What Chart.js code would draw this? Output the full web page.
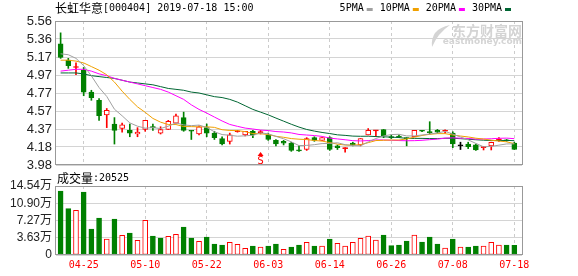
<!DOCTYPE html>
<html>
<head>
<meta charset="utf-8">
<script src="https://cdn.jsdelivr.net/npm/chart.js@4.4.1/dist/chart.umd.min.js"></script>
<style>
html, body { margin: 0; padding: 0; background: #fff; }
#wrap { position: relative; width: 578px; height: 276px; overflow: hidden; }
#price { position: absolute; left: 0; top: 0; }
#volume { position: absolute; left: 0; top: 166px; }
</style>
</head>
<body>
<div id="wrap">
  <canvas id="price" width="578" height="178"></canvas>
  <canvas id="volume" width="578" height="110"></canvas>
</div>
<script>
// trading days 2019-04-22 .. 2019-07-18
const dates = ['04-22','04-23','04-24','04-25','04-26','04-29','04-30','05-06','05-07','05-08',
  '05-09','05-10','05-13','05-14','05-15','05-16','05-17','05-20','05-21','05-22',
  '05-23','05-24','05-27','05-28','05-29','05-30','05-31','06-03','06-04','06-05',
  '06-06','06-10','06-11','06-12','06-13','06-14','06-17','06-18','06-19','06-20',
  '06-21','06-24','06-25','06-26','06-27','06-28','07-01','07-02','07-03','07-04',
  '07-05','07-08','07-09','07-10','07-11','07-12','07-15','07-16','07-17','07-18'];

const opens = [5.31,5.13,5.05,5.02,4.78,4.69,4.53,4.43,4.38,4.36,
  4.32,4.37,4.40,4.33,4.37,4.44,4.50,4.36,4.32,4.39,
  4.33,4.27,4.24,4.345,4.31,4.35,4.335,4.31,4.25,4.24,
  4.22,4.14,4.15,4.28,4.25,4.28,4.19,4.16,4.22,4.20,
  4.31,4.355,4.37,4.285,4.29,4.275,4.29,4.355,4.34,4.36,
  4.35,4.33,4.19,4.21,4.20,4.17,4.19,4.255,4.25,4.22];
const highs = [5.43,5.15,5.10,5.05,4.80,4.71,4.60,4.50,4.44,4.43,
  4.39,4.47,4.43,4.40,4.47,4.54,4.56,4.36,4.41,4.43,
  4.35,4.29,4.33,4.36,4.35,4.36,4.36,4.33,4.26,4.25,
  4.23,4.19,4.28,4.29,4.28,4.29,4.20,4.17,4.23,4.27,
  4.38,4.36,4.37,4.31,4.31,4.28,4.36,4.36,4.455,4.37,
  4.365,4.345,4.23,4.23,4.21,4.18,4.23,4.28,4.26,4.23];
const lows = [5.15,5.04,4.97,4.74,4.69,4.47,4.39,4.21,4.34,4.29,
  4.29,4.35,4.36,4.32,4.37,4.44,4.35,4.26,4.31,4.29,
  4.26,4.20,4.21,4.34,4.30,4.28,4.32,4.25,4.19,4.20,
  4.13,4.13,4.14,4.24,4.25,4.14,4.15,4.12,4.19,4.19,
  4.31,4.29,4.28,4.27,4.28,4.19,4.29,4.345,4.32,4.33,
  4.33,4.17,4.15,4.16,4.14,4.145,4.145,4.24,4.24,4.15];
const closes = [5.16,5.07,5.06,4.78,4.72,4.52,4.58,4.36,4.42,4.33,
  4.34,4.47,4.39,4.37,4.46,4.52,4.36,4.35,4.40,4.33,
  4.28,4.21,4.31,4.35,4.35,4.31,4.34,4.26,4.21,4.22,
  4.14,4.135,4.27,4.25,4.28,4.15,4.17,4.165,4.20,4.27,
  4.36,4.36,4.30,4.28,4.285,4.27,4.36,4.35,4.335,4.34,
  4.36,4.21,4.19,4.18,4.145,4.175,4.23,4.26,4.245,4.15];

const ma5 = [5.20,5.19,5.15,5.07,4.958,4.830,4.732,4.592,4.520,4.442,
  4.406,4.384,4.390,4.380,4.406,4.442,4.420,4.412,4.418,4.392,
  4.344,4.314,4.306,4.296,4.300,4.306,4.332,4.322,4.294,4.268,
  4.234,4.193,4.195,4.203,4.215,4.217,4.224,4.203,4.193,4.191,
  4.233,4.271,4.298,4.314,4.317,4.299,4.299,4.309,4.320,4.331,
  4.349,4.319,4.287,4.256,4.217,4.180,4.184,4.198,4.211,4.212];
const ma10 = [5.13,5.13,5.12,5.10,5.06,5.02,4.97,4.89,4.79,4.700,
  4.618,4.558,4.491,4.450,4.424,4.424,4.402,4.401,4.399,4.399,
  4.393,4.367,4.359,4.357,4.346,4.325,4.323,4.314,4.295,4.284,
  4.270,4.263,4.259,4.249,4.242,4.226,4.209,4.199,4.198,4.203,
  4.225,4.248,4.251,4.254,4.254,4.266,4.285,4.304,4.317,4.324,
  4.324,4.309,4.298,4.288,4.274,4.265,4.252,4.243,4.234,4.215];
const ma20 = [5.01,5.02,5.03,5.03,5.01,4.98,4.96,4.93,4.91,4.89,
  4.87,4.85,4.83,4.81,4.78,4.74,4.70,4.64,4.59,4.550,
  4.506,4.463,4.425,4.404,4.385,4.375,4.363,4.358,4.347,4.342,
  4.332,4.315,4.309,4.303,4.294,4.275,4.266,4.257,4.247,4.244,
  4.248,4.255,4.255,4.251,4.248,4.246,4.247,4.251,4.258,4.264,
  4.275,4.278,4.274,4.271,4.264,4.265,4.268,4.273,4.275,4.269];
const ma30 = [4.99,4.99,4.99,4.98,4.96,4.95,4.94,4.93,4.91,4.89,
  4.88,4.87,4.86,4.84,4.82,4.81,4.80,4.78,4.77,4.75,
  4.73,4.72,4.70,4.67,4.63,4.59,4.56,4.53,4.495,4.461,
  4.427,4.396,4.370,4.352,4.337,4.325,4.311,4.305,4.297,4.295,
  4.296,4.292,4.289,4.286,4.281,4.272,4.272,4.272,4.270,4.270,
  4.273,4.273,4.269,4.263,4.257,4.252,4.248,4.248,4.250,4.247];

// volume in 万 (10k), colour as shown: R = up, G = down
const volumes = [13.48,9.76,9.41,13.27,5.48,7.79,3.37,7.58,4.14,4.63,
  3.09,7.30,4.00,3.58,3.93,4.35,5.90,3.58,2.88,3.79,
  2.32,2.11,2.67,2.25,1.40,1.90,1.69,1.90,2.32,1.19,
  1.69,2.11,2.67,1.90,1.90,3.37,2.46,1.90,2.67,3.51,
  4.00,3.16,4.21,1.97,2.11,2.95,4.21,2.74,3.79,2.32,
  1.47,3.37,1.69,1.69,1.90,1.90,2.67,2.11,2.11,2.05];
const volDirs = ['G','G','R','G','G','G','R','G','R','G',
  'R','R','G','G','R','R','G','G','R','G',
  'G','G','R','R','R','G','R','G','G','R',
  'G','G','R','G','R','G','R','R','R','R',
  'R','R','G','G','G','G','R','G','G','G',
  'R','G','R','G','G','R','R','R','G','G'];

const dateTicks = ['04-25','05-10','05-22','06-03','06-14','06-26','07-08','07-18'];
const priceTicks = ['3.98','4.18','4.37','4.57','4.77','4.97','5.17','5.36','5.56'];
const volumeTicks = ['0','3.63万','7.27万','10.90万','14.54万'];
const priceMin = 3.98, priceMax = 5.56;
const volMax = 14.54;
const lastVolume = '20525';
const sellDate = '05-31';

const RED = '#ff0000', GREEN = '#008000';
const maList = [
  { label: '5PMA', data: ma5, color: '#a0a0a0' },
  { label: '10PMA', data: ma10, color: '#f0a000' },
  { label: '20PMA', data: ma20, color: '#ff00ff' },
  { label: '30PMA', data: ma30, color: '#006633' }
];

const tickIdx = dateTicks.map(d => dates.indexOf(d));
const evenTicks = (min, max, n) => Array.from({ length: n }, (_, k) => ({ value: min + (max - min) * k / (n - 1) }));

const candleColor = dates.map((d, i) => closes[i] > opens[i] ? RED : (closes[i] < opens[i] ? GREEN : '#000'));
const bodyFill = dates.map((d, i) => (closes[i] - opens[i] > 0.015) ? '#fff' : candleColor[i]);

const CN = '"Noto Sans CJK SC"';
const MONO = '"DejaVu Sans Mono"';

const frame = {
  id: 'frame',
  afterDraw(chart) {
    const a = chart.chartArea, ctx = chart.ctx;
    ctx.save();
    ctx.strokeStyle = '#999';
    ctx.lineWidth = 1;
    ctx.strokeRect(a.left - 0.5, a.top + 0.5, a.right - a.left + 1, a.bottom - a.top - 1);
    ctx.restore();
  }
};

const xScale = (showLabels) => ({
  type: 'linear',
  min: -0.6,
  max: 60,
  offset: false,
  afterBuildTicks: s => { s.ticks = tickIdx.map(v => ({ value: v })); },
  afterFit: s => { s.height = showLabels ? 21 : 0; },
  grid: { color: '#cccccc', drawTicks: false, offset: false },
  border: { display: false, dash: [3, 3] },
  ticks: {
    display: showLabels,
    autoSkip: false,
    maxRotation: 0,
    padding: 4,
    color: RED,
    font: { family: MONO, size: 10 },
    callback: v => dates[v]
  }
});

const priceHeader = {
  id: 'priceHeader',
  beforeDatasetsDraw(chart) {
    const a = chart.chartArea, ctx = chart.ctx;
    ctx.save();
    ctx.fillStyle = '#d4d4d4';
    ctx.textAlign = 'right';
    ctx.textBaseline = 'middle';
    ctx.font = 'bold 14px ' + CN;
    ctx.fillText('东方财富网', a.right, a.top + 10);
    ctx.font = 'bold 9px "DejaVu Sans"';
    ctx.fillText('eastmoney.com', a.right, a.top + 21);
    // leaf-like logo mark
    const lx = a.right - 82, ly = a.top + 14;
    ctx.beginPath();
    ctx.moveTo(lx - 8, ly + 12);
    ctx.quadraticCurveTo(lx - 10, ly - 6, lx + 10, ly - 10);
    ctx.quadraticCurveTo(lx - 2, ly - 2, lx - 8, ly + 12);
    ctx.fill();
    ctx.restore();
  },
  afterDraw(chart) {
    const ctx = chart.ctx, a = chart.chartArea;
    ctx.save();
    ctx.textBaseline = 'middle';
    ctx.fillStyle = '#000';
    ctx.font = '12px ' + CN;
    ctx.fillText('长虹华意', 55, 8);
    let x = 55 + ctx.measureText('长虹华意').width;
    ctx.font = '10px ' + MONO;
    ctx.fillText('[000404] 2019-07-18 15:00', x, 8);

    // legend: text then colour box, right aligned
    let right = 511;
    for (let k = maList.length - 1; k >= 0; k--) {
      const m = maList[k];
      ctx.fillStyle = m.color;
      ctx.fillRect(right - 6, 8, 6, 3);
      const w = ctx.measureText(m.label).width;
      ctx.fillStyle = '#000';
      ctx.fillText(m.label, right - 9 - w, 8);
      right = right - 9 - w - 7;
    }

    // sell marker
    const sx = chart.scales.x.getPixelForValue(dates.indexOf(sellDate));
    ctx.fillStyle = RED;
    ctx.beginPath();
    ctx.moveTo(sx, a.bottom - 13);
    ctx.lineTo(sx - 3, a.bottom - 9);
    ctx.lineTo(sx + 3, a.bottom - 9);
    ctx.closePath();
    ctx.fill();
    ctx.font = '11px ' + MONO;
    ctx.textAlign = 'center';
    ctx.fillText('S', sx, a.bottom - 4);
    ctx.restore();
  }
};

new Chart(document.getElementById('price'), {
  type: 'bar',
  data: {
    datasets: [
      ...maList.map(m => ({
        type: 'line',
        label: m.label,
        data: m.data.map((v, i) => ({ x: i, y: v })),
        borderColor: m.color,
        borderWidth: 1,
        pointRadius: 0,
        tension: 0,
        order: 0
      })),
      {
        label: 'body',
        data: dates.map((d, i) => ({ x: i, y: [opens[i], closes[i]] })),
        backgroundColor: bodyFill,
        borderColor: candleColor,
        borderWidth: 1,
        borderSkipped: false,
        barThickness: 5,
        minBarLength: 1,
        grouped: false,
        order: 1
      },
      {
        label: 'wick',
        data: dates.map((d, i) => ({ x: i, y: [lows[i], highs[i]] })),
        backgroundColor: candleColor,
        borderWidth: 0,
        barThickness: 1,
        grouped: false,
        order: 2
      }
    ]
  },
  options: {
    responsive: false,
    animation: false,
    layout: { padding: { top: 21, right: 56, bottom: 13, left: 0 } },
    plugins: { legend: { display: false }, tooltip: { enabled: false } },
    scales: {
      x: xScale(false),
      y: {
        min: priceMin,
        max: priceMax,
        afterBuildTicks: s => { s.ticks = evenTicks(priceMin, priceMax, priceTicks.length); },
        afterFit: s => { s.width = 56; },
        grid: { color: '#d4d4d4', drawTicks: false },
        border: { display: false },
        ticks: {
          autoSkip: false,
          padding: 4,
          color: '#222',
          font: { family: '"Liberation Sans"', size: 13 },
          callback: (v, k) => priceTicks[k]
        }
      }
    }
  },
  plugins: [frame, priceHeader]
});

const volHeader = {
  id: 'volHeader',
  afterDraw(chart) {
    const ctx = chart.ctx;
    ctx.save();
    ctx.textBaseline = 'middle';
    ctx.fillStyle = '#000';
    ctx.font = '12px ' + CN;
    ctx.fillText('成交量', 57, 12);
    const x = 57 + ctx.measureText('成交量').width;
    ctx.font = '10px ' + MONO;
    ctx.fillText(':' + lastVolume, x, 12);
    ctx.restore();
  }
};

new Chart(document.getElementById('volume'), {
  type: 'bar',
  data: {
    datasets: [{
      label: '成交量',
      data: volumes.map((v, i) => ({ x: i, y: v })),
      backgroundColor: volDirs.map(c => c === 'R' ? '#fff' : GREEN),
      borderColor: volDirs.map(c => c === 'R' ? RED : GREEN),
      borderWidth: 1,
      borderSkipped: false,
      barThickness: 5,
      grouped: false
    }]
  },
  options: {
    responsive: false,
    animation: false,
    layout: { padding: { top: 20, right: 56, bottom: 0, left: 0 } },
    plugins: { legend: { display: false }, tooltip: { enabled: false } },
    scales: {
      x: xScale(true),
      y: {
        min: 0,
        max: volMax,
        afterBuildTicks: s => { s.ticks = evenTicks(0, volMax, volumeTicks.length); },
        afterFit: s => { s.width = 56; },
        grid: { color: '#d4d4d4', drawTicks: false },
        border: { display: false },
        ticks: {
          autoSkip: false,
          padding: 4,
          color: '#222',
          font: { family: '"Liberation Sans", "Noto Sans CJK SC"', size: 12 },
          callback: (v, k) => volumeTicks[k]
        }
      }
    }
  },
  plugins: [frame, volHeader]
});
</script>
</body>
</html>
